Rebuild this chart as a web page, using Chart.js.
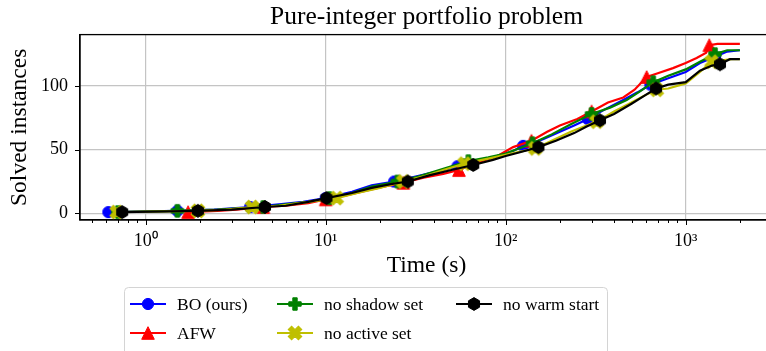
<!DOCTYPE html>
<html>
<head>
<meta charset="utf-8">
<script src="https://cdn.jsdelivr.net/npm/chart.js@4"></script>
<style>
  html, body { margin: 0; padding: 0; background: #fff; overflow: hidden; }
  #wrap { width: 766px; height: 351px; overflow: hidden; }
</style>
</head>
<body>
<div id="wrap"><canvas id="myChart" width="782" height="351"></canvas></div>
<script>
// solved instances over time (s), one pair of arrays per solver variant
var boTime   = [0.62,1.5,2.4,3.8,5.5,7.5,10,14,18,24,32,42,54,70,90,110,125,160,200,240,286,360,450,540,636,800,1000,1200,1455,1700,2000]
var boSolved = [1,2,3,5,7,9,12,17,22,25,29,33,37,41,45,49,53,58,64,69,74,82,89,95,101,106,111,118,123,127,128]
var boMarks  = [0.62,1.5,3.8,10,24,54,125,286,636,1455]

var afwTime   = [1.72,2.5,3.2,4.5,6,8,10,13,17,21,27,35,45,55,70,90,110,139,170,200,250,300,370,450,520,607,700,850,1000,1150,1300,1352,1500,2000]
var afwSolved = [1,2,3,5,6,8,11,14,18,21,24,28,31,34,40,45,52,57,64,69,74,80,87,91,97,107,110,114,118,122,126,132,133,133]
var afwMarks  = [1.72,4.5,10,27,55,139,300,607,1352]

var shTime   = [0.7,1.5,2.5,3.3,4.5,6,8,10.5,14,18,25,33,45,62,80,100,141,180,230,300,380,470,560,660,800,1000,1200,1455,1700,2000]
var shSolved = [1,2,3,4,5,7,9,12,16,21,25,29,35,41,44,47,55,62,70,78,83,89,96,103,108,113,119,125,128,128]
var shMarks  = [0.7,1.5,4.5,10.5,25,62,141,300,660,1455]

var acTime   = [0.69,1.95,2.8,3.9,5.5,8,11.5,15,20,27,35,45,59,80,100,146,180,230,320,400,500,600,690,800,1000,1200,1393,1600,1800,2000]
var acSolved = [1,2,3,5,6,9,12,16,20,25,29,34,39,43,46,51,57,64,72,80,87,93,97,98,102,111,119,120,121,121]
var acMarks  = [0.69,1.95,3.9,11.5,27,59,146,320,690,1393]

var wsTime   = [0.74,1.95,3,4.6,6,8,10.1,14,18,23,28.6,38,50,66,85,100,120,152,190,240,280,334,400,500,600,684,800,1000,1200,1400,1550,1760,2000]
var wsSolved = [1,2,3,5,6,9,12,16,20,23,25,30,34,38,42,45,48,52,57,63,68,73,78,86,93,98,101,103,112,116,117,121,121]
var wsMarks  = [0.74,1.95,4.6,10.1,28.6,66,152,334,684,1550]

var xTicks = [0.5,0.6,0.7,0.8,0.9,1,2,3,4,5,6,7,8,9,10,20,30,40,50,60,70,80,90,100,
              200,300,400,500,600,700,800,900,1000,2000,3000]
var yTicks = [0, 50, 100]
var supDigits = {"0":"\u2070","1":"\u00b9","2":"\u00b2","3":"\u00b3"}

var FONT = '"Liberation Serif", "Times New Roman", serif'

function isMajor(v){
    var l = Math.log10(v)
    return Math.abs(l - Math.round(l)) < 1e-9
}

// small offscreen canvases used as marker images
function markerCanvas(color, draw){
    var c = document.createElement("canvas")
    c.width = 18; c.height = 18
    var g = c.getContext("2d")
    g.translate(9, 9)
    g.fillStyle = color
    g.strokeStyle = color
    g.lineWidth = 1
    g.beginPath()
    draw(g)
    g.closePath()
    g.fill()
    g.stroke()
    return c
}
function plusPath(g, r, w){
    g.moveTo(-w,-r); g.lineTo(w,-r); g.lineTo(w,-w); g.lineTo(r,-w); g.lineTo(r,w); g.lineTo(w,w)
    g.lineTo(w,r); g.lineTo(-w,r); g.lineTo(-w,w); g.lineTo(-r,w); g.lineTo(-r,-w); g.lineTo(-w,-w)
}
var circleM = markerCanvas("#0000ff", g => g.arc(0, 0, 5.6, 0, 2*Math.PI))
var triM = markerCanvas("#ff0000", g => { g.moveTo(0,-6.3); g.lineTo(6.3,6.3); g.lineTo(-6.3,6.3) })
var plusM = markerCanvas("#008000", g => plusPath(g, 6.2, 2.2))
var xM = markerCanvas("#bfbf00", g => { g.rotate(Math.PI/4); plusPath(g, 7.2, 2.4) })
var hexM = markerCanvas("#000000", g => {
    for(let k=0;k<6;k++){
        let a = -Math.PI/2 + k*Math.PI/3
        if(k==0) g.moveTo(6.4*Math.cos(a), 6.4*Math.sin(a))
        else g.lineTo(6.4*Math.cos(a), 6.4*Math.sin(a))
    }
})

function series(label, color, times, solved, marks, marker, order){
    return {
        label: label,
        borderColor: color,
        backgroundColor: color,
        data: times.map((t, i) => ({x: t, y: solved[i]})),
        borderWidth: 2.2,
        tension: 0,
        fill: false,
        order: order,
        pointStyle: marker,
        pointRadius: ctx => marks.includes(times[ctx.dataIndex]) ? 6 : 0,
        pointHoverRadius: 0,
        pointHitRadius: 0
    }
}

var datasets = [
    series("BO (ours)", "#0000ff", boTime, boSolved, boMarks, circleM, 4),
    series("AFW", "#ff0000", afwTime, afwSolved, afwMarks, triM, 3),
    series("no shadow set", "#008000", shTime, shSolved, shMarks, plusM, 2),
    series("no active set", "#bfbf00", acTime, acSolved, acMarks, xM, 1),
    series("no warm start", "#000000", wsTime, wsSolved, wsMarks, hexM, 0)
]

// frame, tick marks and the boxed legend under the axes
var extras = {
    id: "extras",
    afterDraw(chart){
        const ctx = chart.ctx
        const a = chart.chartArea
        const xs = chart.scales.x, ys = chart.scales.y
        ctx.save()
        ctx.strokeStyle = "#000"
        ctx.lineWidth = 1.3
        ctx.strokeRect(a.left, a.top, a.right - a.left, a.bottom - a.top)
        ctx.lineWidth = 1
        ctx.beginPath()
        xTicks.forEach(v => {
            let px = Math.round(xs.getPixelForValue(v)) + 0.5
            ctx.moveTo(px, a.bottom)
            ctx.lineTo(px, a.bottom + (isMajor(v) ? 5 : 3))
        })
        yTicks.forEach(v => {
            let py = Math.round(ys.getPixelForValue(v)) + 0.5
            ctx.moveTo(a.left, py)
            ctx.lineTo(a.left - 5, py)
        })
        ctx.stroke()

        // legend
        let bx = 124.5, by = 287.5, bw = 483, bh = 80, r = 4
        ctx.beginPath()
        ctx.moveTo(bx + r, by)
        ctx.lineTo(bx + bw - r, by)
        ctx.arcTo(bx + bw, by, bx + bw, by + r, r)
        ctx.lineTo(bx + bw, by + bh)
        ctx.lineTo(bx, by + bh)
        ctx.lineTo(bx, by + r)
        ctx.arcTo(bx, by, bx + r, by, r)
        ctx.fillStyle = "rgba(255,255,255,0.85)"
        ctx.fill()
        ctx.strokeStyle = "#d4d4d4"
        ctx.stroke()

        const cols = [[0, 1], [2, 3], [4]]
        const colX = [130, 277, 456]
        const rowY = [304, 333]
        ctx.font = "17.5px " + FONT
        ctx.textBaseline = "middle"
        ctx.textAlign = "left"
        cols.forEach((items, c) => {
            items.forEach((di, r) => {
                const ds = chart.data.datasets[di]
                const x = colX[c], y = rowY[r]
                ctx.strokeStyle = ds.borderColor
                ctx.lineWidth = 2.2
                ctx.beginPath()
                ctx.moveTo(x, y)
                ctx.lineTo(x + 36, y)
                ctx.stroke()
                const m = ds.pointStyle
                ctx.drawImage(m, x + 18 - m.width/2, y - m.height/2)
                ctx.fillStyle = "#000"
                ctx.fillText(ds.label, x + 47, y + 1)
            })
        })
        ctx.restore()
    }
}

const ctx = document.getElementById("myChart")
var chart = new Chart(ctx, {
    type: "line",
    data: { datasets: datasets },
    plugins: [extras],
    options: {
        responsive: false,
        animation: false,
        events: [],
        layout: { padding: { left: 0, right: 9, top: 0, bottom: 71 } },
        plugins: {
            legend: { display: false },
            tooltip: { enabled: false },
            title: {
                display: true,
                text: "Pure-integer portfolio problem",
                fullSize: false,
                color: "#000",
                font: { family: FONT, size: 25.5, weight: "normal", lineHeight: 1.2 },
                padding: { top: 2, bottom: 2 }
            }
        },
        scales: {
            x: {
                type: "logarithmic",
                min: 0.4315,
                max: 3055,
                afterBuildTicks: s => { s.ticks = xTicks.map(v => ({ value: v })) },
                afterFit: s => { s.height = 60 },
                grid: {
                    drawTicks: false,
                    color: c => (c.tick && isMajor(c.tick.value)) ? "#c4c4c4" : "rgba(0,0,0,0)",
                    lineWidth: 1.2
                },
                border: { display: true, color: "#000", width: 1.3 },
                ticks: {
                    autoSkip: false,
                    maxRotation: 0,
                    padding: 10,
                    color: "#000",
                    font: { family: FONT, size: 18 },
                    callback: v => isMajor(v) ? "10" + supDigits[String(Math.round(Math.log10(v)))] : ""
                },
                title: {
                    display: true,
                    text: "Time (s)",
                    color: "#000",
                    font: { family: FONT, size: 23.5, lineHeight: 1.2 },
                    padding: { top: 0, bottom: 0 }
                }
            },
            y: {
                min: -5.2,
                max: 140.3,
                afterBuildTicks: s => { s.ticks = yTicks.map(v => ({ value: v })) },
                afterFit: s => { s.width = 80 },
                grid: { drawTicks: false, color: "#c4c4c4", lineWidth: 1.2 },
                border: { display: true, color: "#000", width: 1.3 },
                ticks: {
                    padding: 12,
                    color: "#000",
                    font: { family: FONT, size: 18 }
                },
                title: {
                    display: true,
                    text: "Solved instances",
                    color: "#000",
                    font: { family: FONT, size: 23.5, lineHeight: 1.2 },
                    padding: { top: 6 }
                }
            }
        }
    }
})
</script>
</body>
</html>
